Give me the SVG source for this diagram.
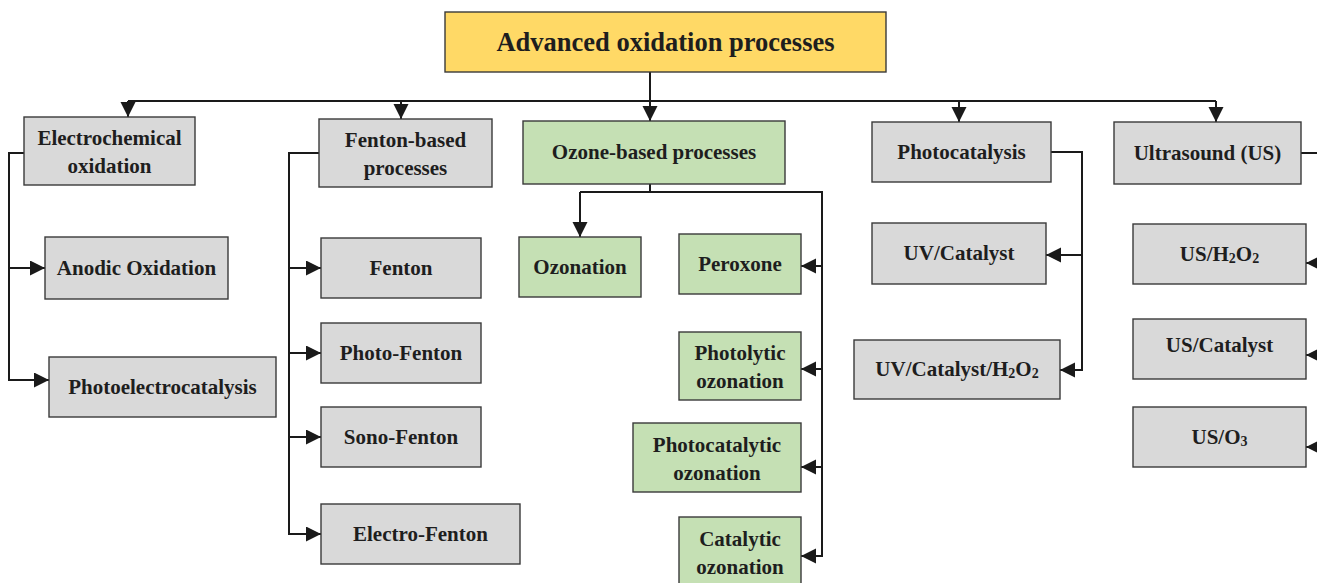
<svg xmlns="http://www.w3.org/2000/svg" width="1317" height="583" viewBox="0 0 1317 583">
<style>
  .box { stroke: #3a3a3a; stroke-width: 1.4; }
  .gray { fill: #D9D9D9; }
  .green { fill: #C5E0B4; }
  .yellow { fill: #FFD966; }
  .lbl { font-family: "Liberation Serif", "Times New Roman", serif; font-weight: bold; font-size: 21px; fill: #1e1e1e; text-anchor: middle; }
  .title { font-size: 26.5px; }
  .sub { font-size: 14px; }
  .conn { fill: none; stroke: #1a1a1a; stroke-width: 2; }
</style>
<defs>
  <marker id="arr" markerUnits="userSpaceOnUse" markerWidth="16" markerHeight="16" refX="15" refY="7.5" orient="auto">
    <path d="M0,0 L15,7.5 L0,15 Z" fill="#1a1a1a"/>
  </marker>
</defs>
<rect width="1317" height="583" fill="#ffffff"/>

<g id="connectors">
  <path class="conn" d="M650,72 V101 M128,101 H1216"/>
  <path class="conn" marker-end="url(#arr)" d="M128,101 V117"/>
  <path class="conn" marker-end="url(#arr)" d="M401,101 V119"/>
  <path class="conn" marker-end="url(#arr)" d="M650,101 V121"/>
  <path class="conn" marker-end="url(#arr)" d="M959,101 V122"/>
  <path class="conn" marker-end="url(#arr)" d="M1216,101 V122"/>

  <path class="conn" marker-end="url(#arr)" d="M24,153 H9 V380 H49"/>
  <path class="conn" marker-end="url(#arr)" d="M9,268 H45"/>

  <path class="conn" marker-end="url(#arr)" d="M319,153 H289 V534 H321"/>
  <path class="conn" marker-end="url(#arr)" d="M289,268 H321"/>
  <path class="conn" marker-end="url(#arr)" d="M289,353 H321"/>
  <path class="conn" marker-end="url(#arr)" d="M289,437 H321"/>

  <path class="conn" d="M650,184 V192"/>
  <path class="conn" marker-end="url(#arr)" d="M580,192 H822 V556 H801"/>
  <path class="conn" marker-end="url(#arr)" d="M580,192 V237"/>
  <path class="conn" marker-end="url(#arr)" d="M822,266 H801"/>
  <path class="conn" marker-end="url(#arr)" d="M822,369 H801"/>
  <path class="conn" marker-end="url(#arr)" d="M822,467 H801"/>

  <path class="conn" marker-end="url(#arr)" d="M1051,152 H1082 V370 H1060"/>
  <path class="conn" marker-end="url(#arr)" d="M1082,255 H1046"/>

  <path class="conn" d="M1301,153 H1322"/>
  <path class="conn" marker-end="url(#arr)" d="M1325,263 H1306"/>
  <path class="conn" marker-end="url(#arr)" d="M1325,355 H1306"/>
  <path class="conn" marker-end="url(#arr)" d="M1325,447 H1306"/>
</g>

<g id="aop">
  <rect class="box yellow" x="445" y="12" width="441" height="60"/>
  <text class="lbl title" x="665.5" y="51">Advanced oxidation processes</text>
</g>

<g id="electrochemical">
  <rect class="box gray" x="24" y="117" width="171" height="68"/>
  <text class="lbl" x="109.5" y="145">Electrochemical</text>
  <text class="lbl" x="109.5" y="173">oxidation</text>
</g>
<g id="anodic">
  <rect class="box gray" x="45" y="237" width="183" height="62"/>
  <text class="lbl" x="136.5" y="275">Anodic Oxidation</text>
</g>
<g id="photoelectrocatalysis">
  <rect class="box gray" x="49" y="357" width="227" height="60"/>
  <text class="lbl" x="162.5" y="394">Photoelectrocatalysis</text>
</g>

<g id="fenton-based">
  <rect class="box gray" x="319" y="119" width="173" height="68"/>
  <text class="lbl" x="405.5" y="147">Fenton-based</text>
  <text class="lbl" x="405.5" y="175">processes</text>
</g>
<g id="fenton">
  <rect class="box gray" x="321" y="238" width="160" height="60"/>
  <text class="lbl" x="401" y="275">Fenton</text>
</g>
<g id="photo-fenton">
  <rect class="box gray" x="321" y="323" width="160" height="60"/>
  <text class="lbl" x="401" y="360">Photo-Fenton</text>
</g>
<g id="sono-fenton">
  <rect class="box gray" x="321" y="407" width="160" height="60"/>
  <text class="lbl" x="401" y="444">Sono-Fenton</text>
</g>
<g id="electro-fenton">
  <rect class="box gray" x="321" y="504" width="199" height="60"/>
  <text class="lbl" x="420.5" y="541">Electro-Fenton</text>
</g>

<g id="ozone-based">
  <rect class="box green" x="523" y="121" width="262" height="63"/>
  <text class="lbl" x="654" y="159">Ozone-based processes</text>
</g>
<g id="ozonation">
  <rect class="box green" x="519" y="237" width="122" height="60"/>
  <text class="lbl" x="580" y="274">Ozonation</text>
</g>
<g id="peroxone">
  <rect class="box green" x="679" y="234" width="122" height="60"/>
  <text class="lbl" x="740" y="271">Peroxone</text>
</g>
<g id="photolytic">
  <rect class="box green" x="679" y="332" width="122" height="68"/>
  <text class="lbl" x="740" y="360">Photolytic</text>
  <text class="lbl" x="740" y="388">ozonation</text>
</g>
<g id="photocatalytic">
  <rect class="box green" x="633" y="423" width="168" height="69"/>
  <text class="lbl" x="717" y="452">Photocatalytic</text>
  <text class="lbl" x="717" y="480">ozonation</text>
</g>
<g id="catalytic">
  <rect class="box green" x="679" y="517" width="122" height="72"/>
  <text class="lbl" x="740" y="546">Catalytic</text>
  <text class="lbl" x="740" y="574">ozonation</text>
</g>

<g id="photocatalysis">
  <rect class="box gray" x="872" y="122" width="179" height="60"/>
  <text class="lbl" x="961.5" y="159">Photocatalysis</text>
</g>
<g id="uv-catalyst">
  <rect class="box gray" x="872" y="223" width="174" height="61"/>
  <text class="lbl" x="959" y="260">UV/Catalyst</text>
</g>
<g id="uv-catalyst-h2o2">
  <rect class="box gray" x="854" y="340" width="206" height="59"/>
  <text class="lbl" x="957" y="376">UV/Catalyst/H<tspan class="sub" dy="2">2</tspan><tspan dy="-2">O</tspan><tspan class="sub" dy="2">2</tspan></text>
</g>

<g id="ultrasound">
  <rect class="box gray" x="1114" y="122" width="187" height="62"/>
  <text class="lbl" x="1207.5" y="160">Ultrasound (US)</text>
</g>
<g id="us-h2o2">
  <rect class="box gray" x="1133" y="224" width="173" height="60"/>
  <text class="lbl" x="1219.5" y="261">US/H<tspan class="sub" dy="2">2</tspan><tspan dy="-2">O</tspan><tspan class="sub" dy="2">2</tspan></text>
</g>
<g id="us-catalyst">
  <rect class="box gray" x="1133" y="319" width="173" height="60"/>
  <text class="lbl" x="1219.5" y="352">US/Catalyst</text>
</g>
<g id="us-o3">
  <rect class="box gray" x="1133" y="407" width="173" height="60"/>
  <text class="lbl" x="1219.5" y="444">US/O<tspan class="sub" dy="2">3</tspan></text>
</g>
</svg>
